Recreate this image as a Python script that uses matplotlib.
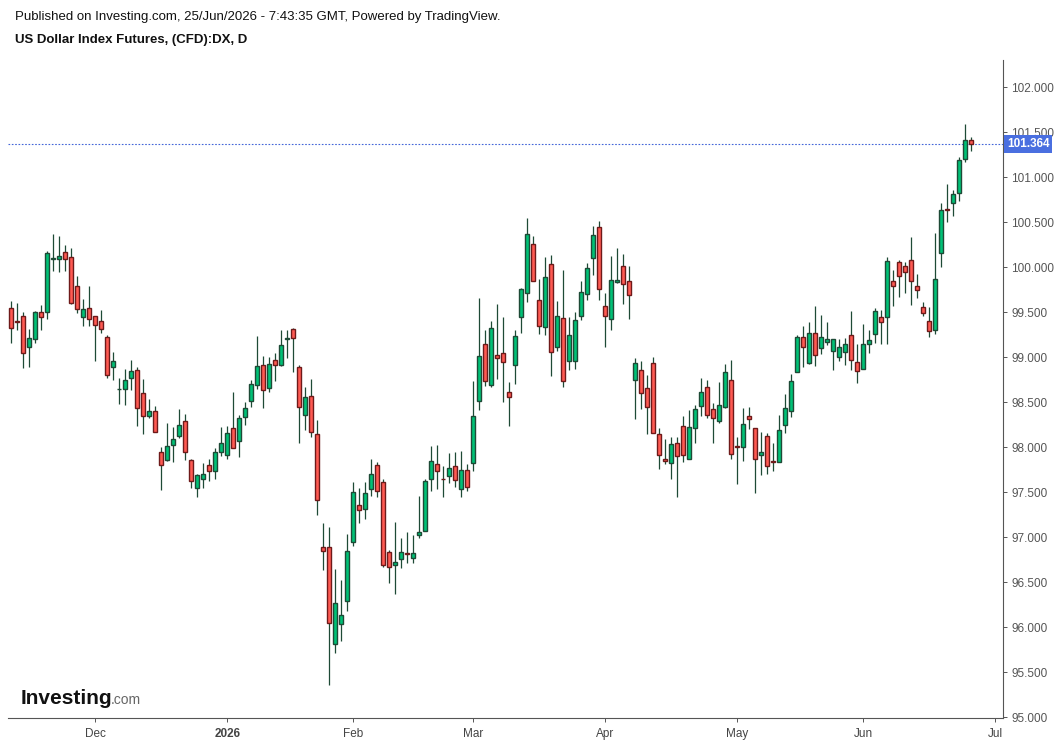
import numpy as np
import matplotlib
matplotlib.use("Agg")
import matplotlib.pyplot as plt
import matplotlib.transforms as mtransforms

plt.rcParams['font.family'] = ['Liberation Sans', 'DejaVu Sans']

# daily candles, 11 Nov 2025 .. 25 Jun 2026 (trading days only)
opens = [99.55, 99.40, 99.46, 99.11, 99.20, 99.50, 99.50, 100.09, 100.09, 100.17,
         100.11, 99.79, 99.45, 99.55, 99.46, 99.40, 99.22, 98.89, 98.64, 98.65,
         98.77, 98.86, 98.60, 98.34, 98.40, 97.95, 97.86, 98.02, 98.12, 98.29,
         97.86, 97.55, 97.64, 97.80, 97.73, 97.95, 97.91, 98.21, 98.07, 98.33,
         98.51, 98.69, 98.91, 98.66, 98.97, 98.91, 99.205, 99.31, 98.89, 98.36,
         98.57, 98.15, 96.89, 96.89, 95.81, 96.03, 96.29, 96.95, 97.36, 97.31,
         97.53, 97.80, 97.61, 96.83, 96.69, 96.76, 96.82, 96.77, 97.02, 97.07,
         97.64, 97.81, 97.65, 97.68, 97.79, 97.53, 97.74, 97.82, 98.51, 99.15,
         98.69, 99.02, 99.04, 98.61, 98.91, 99.44, 99.71, 100.26, 99.63, 99.33,
         100.03, 99.11, 99.43, 98.96, 98.96, 99.46, 99.70, 100.10, 100.44, 99.57,
         99.42, 99.83, 100.01, 99.85, 98.75, 98.86, 98.66, 98.93, 98.15, 97.87,
         97.82, 98.04, 98.23, 97.87, 98.21, 98.46, 98.67, 98.42, 98.29, 98.45,
         98.74, 98.01, 98.00, 98.35, 98.21, 97.91, 98.12, 97.85, 97.83, 98.24,
         98.40, 98.83, 99.22, 98.93, 99.27, 99.10, 99.17, 99.07, 99.00, 99.06,
         99.24, 98.94, 98.87, 99.15, 99.26, 99.45, 99.44, 99.85, 100.06, 100.01,
         100.08, 99.79, 99.56, 99.40, 99.30, 100.16, 100.64, 100.71, 100.82, 101.20,
         101.41]
highs = [99.62, 99.60, 99.50, 99.31, 99.51, 99.58, 100.18, 100.37, 100.34, 100.24,
         100.21, 99.90, 99.65, 99.79, 99.46, 99.52, 99.24, 99.06, 98.77, 98.87,
         98.97, 98.89, 98.76, 98.53, 98.46, 98.00, 98.27, 98.22, 98.42, 98.37,
         97.87, 97.70, 97.82, 97.87, 97.99, 98.22, 98.23, 98.61, 98.36, 98.50,
         98.74, 99.23, 99.01, 99.00, 99.04, 99.30, 99.30, 99.32, 98.91, 98.67,
         98.76, 98.30, 97.16, 97.11, 96.65, 96.52, 97.03, 97.61, 97.55, 97.61,
         97.87, 97.83, 97.64, 96.86, 97.17, 96.99, 97.06, 97.02, 97.46, 97.65,
         98.01, 98.02, 97.79, 97.93, 97.94, 97.96, 97.81, 98.73, 99.66, 99.30,
         99.40, 99.59, 99.44, 98.72, 99.30, 99.77, 100.54, 100.34, 99.87, 100.11,
         100.13, 99.62, 99.97, 99.45, 99.50, 99.85, 100.05, 100.46, 100.51, 99.71,
         100.12, 100.21, 100.14, 100.01, 98.99, 98.96, 98.80, 99.00, 98.21, 98.09,
         98.11, 98.11, 98.35, 98.41, 98.47, 98.77, 98.75, 98.49, 98.72, 98.92,
         98.97, 98.11, 98.43, 98.45, 98.21, 98.17, 98.16, 98.04, 98.36, 98.59,
         98.81, 99.25, 99.34, 99.39, 99.57, 99.47, 99.39, 99.20, 99.20, 99.21,
         99.51, 99.15, 99.37, 99.30, 99.55, 99.52, 100.11, 99.97, 100.08, 100.06,
         100.33, 99.92, 99.61, 99.56, 100.38, 100.71, 100.92, 100.86, 101.22, 101.59,
         101.45]
lows = [99.16, 99.30, 98.88, 98.89, 99.16, 99.30, 99.42, 99.96, 99.94, 99.96,
        99.59, 99.49, 99.35, 99.34, 98.96, 99.27, 98.77, 98.74, 98.48, 98.47,
        98.63, 98.23, 98.15, 98.32, 98.17, 97.52, 97.84, 97.83, 98.10, 97.86,
        97.54, 97.44, 97.54, 97.62, 97.65, 97.90, 97.87, 97.99, 97.89, 98.25,
        98.44, 98.65, 98.43, 98.61, 98.73, 98.90, 98.99, 98.83, 98.04, 98.19,
        98.11, 97.25, 96.63, 95.36, 95.71, 95.85, 96.18, 96.90, 97.16, 97.20,
        97.46, 97.44, 96.67, 96.49, 96.37, 96.66, 96.71, 96.71, 96.99, 97.07,
        97.51, 97.53, 97.45, 97.60, 97.56, 97.44, 97.51, 97.73, 98.41, 98.68,
        98.67, 98.76, 98.50, 98.23, 98.70, 99.27, 99.61, 99.84, 99.26, 99.24,
        98.79, 99.07, 98.67, 98.86, 98.87, 99.41, 99.63, 99.91, 99.63, 99.11,
        99.30, 99.82, 99.59, 99.42, 98.31, 98.42, 98.14, 98.16, 97.76, 97.81,
        97.64, 97.44, 97.83, 97.87, 98.04, 98.35, 98.32, 98.05, 98.27, 98.43,
        97.87, 97.59, 97.84, 98.20, 97.49, 97.69, 97.70, 97.73, 97.83, 98.16,
        98.33, 98.83, 98.89, 98.92, 98.90, 99.03, 99.13, 98.86, 98.96, 98.91,
        98.86, 98.71, 98.87, 99.04, 99.16, 99.15, 99.15, 99.57, 99.67, 99.71,
        99.58, 99.66, 99.46, 99.22, 99.26, 100.00, 100.50, 100.57, 100.73, 101.17,
        101.29]
closes = [99.32, 99.39, 99.05, 99.21, 99.50, 99.45, 100.16, 100.10, 100.12, 100.09,
          99.60, 99.53, 99.53, 99.42, 99.36, 99.31, 98.80, 98.96, 98.645, 98.75,
          98.85, 98.43, 98.35, 98.40, 98.17, 97.80, 98.01, 98.09, 98.25, 97.95,
          97.62, 97.69, 97.70, 97.73, 97.95, 98.05, 98.16, 97.99, 98.32, 98.43,
          98.70, 98.90, 98.63, 98.92, 98.91, 99.13, 99.21, 99.21, 98.44, 98.56,
          98.17, 97.41, 96.85, 96.04, 96.27, 96.13, 96.85, 97.50, 97.30, 97.49,
          97.70, 97.51, 96.69, 96.67, 96.72, 96.83, 96.815, 96.82, 97.06, 97.62,
          97.85, 97.73, 97.645, 97.77, 97.63, 97.74, 97.56, 98.34, 99.01, 98.73,
          99.32, 98.99, 98.94, 98.56, 99.23, 99.76, 100.37, 99.84, 99.34, 99.89,
          99.06, 99.46, 98.73, 99.25, 99.41, 99.72, 99.99, 100.36, 99.76, 99.46,
          99.86, 99.86, 99.81, 99.69, 98.93, 98.60, 98.44, 98.16, 97.91, 97.85,
          98.03, 97.90, 97.91, 98.22, 98.42, 98.61, 98.36, 98.32, 98.47, 98.83,
          97.92, 98.005, 98.26, 98.31, 97.87, 97.94, 97.79, 97.83, 98.19, 98.43,
          98.73, 99.22, 99.11, 99.27, 99.02, 99.22, 99.20, 99.20, 99.11, 99.15,
          98.97, 98.85, 99.15, 99.19, 99.51, 99.39, 100.07, 99.79, 99.90, 99.94,
          99.85, 99.75, 99.49, 99.29, 99.87, 100.63, 100.635, 100.81, 101.19, 101.41,
          101.364]

month_labels = ['Dec', '2026', 'Feb', 'Mar', 'Apr', 'May', 'Jun', 'Jul']
month_index = [14, 36, 57, 77, 99, 121, 142, 164]
price_ticks = [95.0, 95.5, 96.0, 96.5, 97.0, 97.5, 98.0, 98.5, 99.0, 99.5,
               100.0, 100.5, 101.0, 101.5, 102.0]
last_price = closes[-1]

o = np.array(opens)
h = np.array(highs)
l = np.array(lows)
c = np.array(closes)
x = np.arange(len(o))
up = c >= o

fig = plt.figure(figsize=(10.62, 7.43), dpi=100)
ax = fig.add_axes([8 / 1062, 1 - 718 / 743, (1003 - 8) / 1062, (718 - 60) / 743])

wick_col = '#1e4a36'
ax.vlines(x, l, h, color=wick_col, linewidth=0.9, zorder=2)
ax.bar(x[up], (c - o)[up], bottom=o[up], width=0.62, color='#00c176',
       edgecolor='#1e4a36', linewidth=1.0, zorder=3)
ax.bar(x[~up], (c - o)[~up], bottom=o[~up], width=0.62, color='#ff5a52',
       edgecolor='#6e1a1a', linewidth=1.0, zorder=3)

ax.axhline(last_price, color='#4466d8', linestyle=(0, (1.5, 1.5)), linewidth=0.8, zorder=1)

ax.set_xlim(-0.55, 165.3)
ax.set_ylim(94.99, 102.3)

for s in ['top', 'left']:
    ax.spines[s].set_visible(False)
for s in ['bottom', 'right']:
    ax.spines[s].set_color('#555555')
    ax.spines[s].set_linewidth(0.8)

ax.yaxis.tick_right()
ax.set_yticks(price_ticks)
ax.set_yticklabels([f'{p:.3f}' for p in price_ticks])
ax.tick_params(axis='y', length=3, width=0.7, color='#555555', labelcolor='#555555',
               labelsize=8.5, pad=3)
ax.set_xticks(month_index)
ax.set_xticklabels(month_labels)
ax.tick_params(axis='x', length=3, width=0.7, color='#555555', labelcolor='#444444',
               labelsize=8.5, pad=4)
for lab in ax.get_xticklabels():
    if lab.get_text() == '2026':
        lab.set_fontweight('bold')

trans = mtransforms.blended_transform_factory(ax.transAxes, ax.transData)
ax.text(1.004, last_price, f'{last_price:.3f}', transform=trans, ha='left', va='center',
        color='white', fontsize=8.5, fontweight='bold', clip_on=False,
        bbox=dict(boxstyle='square,pad=0.25', facecolor='#4a6fe0', edgecolor='none'))

fig.text(15 / 1062, 1 - 17 / 743, 'Published on Investing.com, 25/Jun/2026 - 7:43:35 GMT, Powered by TradingView.',
         fontsize=9.5, va='center', ha='left', color='#111111')
fig.text(15 / 1062, 1 - 40 / 743, 'US Dollar Index Futures, (CFD):DX, D',
         fontsize=9.5, va='center', ha='left', fontweight='bold', color='#111111')

logo = fig.text(21 / 1062, 1 - 704 / 743, 'Investing', fontsize=15, fontweight='bold',
                color='#111111', va='baseline', ha='left')
ax.annotate('.com', xy=(1.0, 0.0), xycoords=logo, xytext=(-1.5, 0.5), textcoords='offset points',
            fontsize=10, color='#666666', va='bottom', ha='left', annotation_clip=False)

fig.savefig('out.png', dpi=100, facecolor='white')
